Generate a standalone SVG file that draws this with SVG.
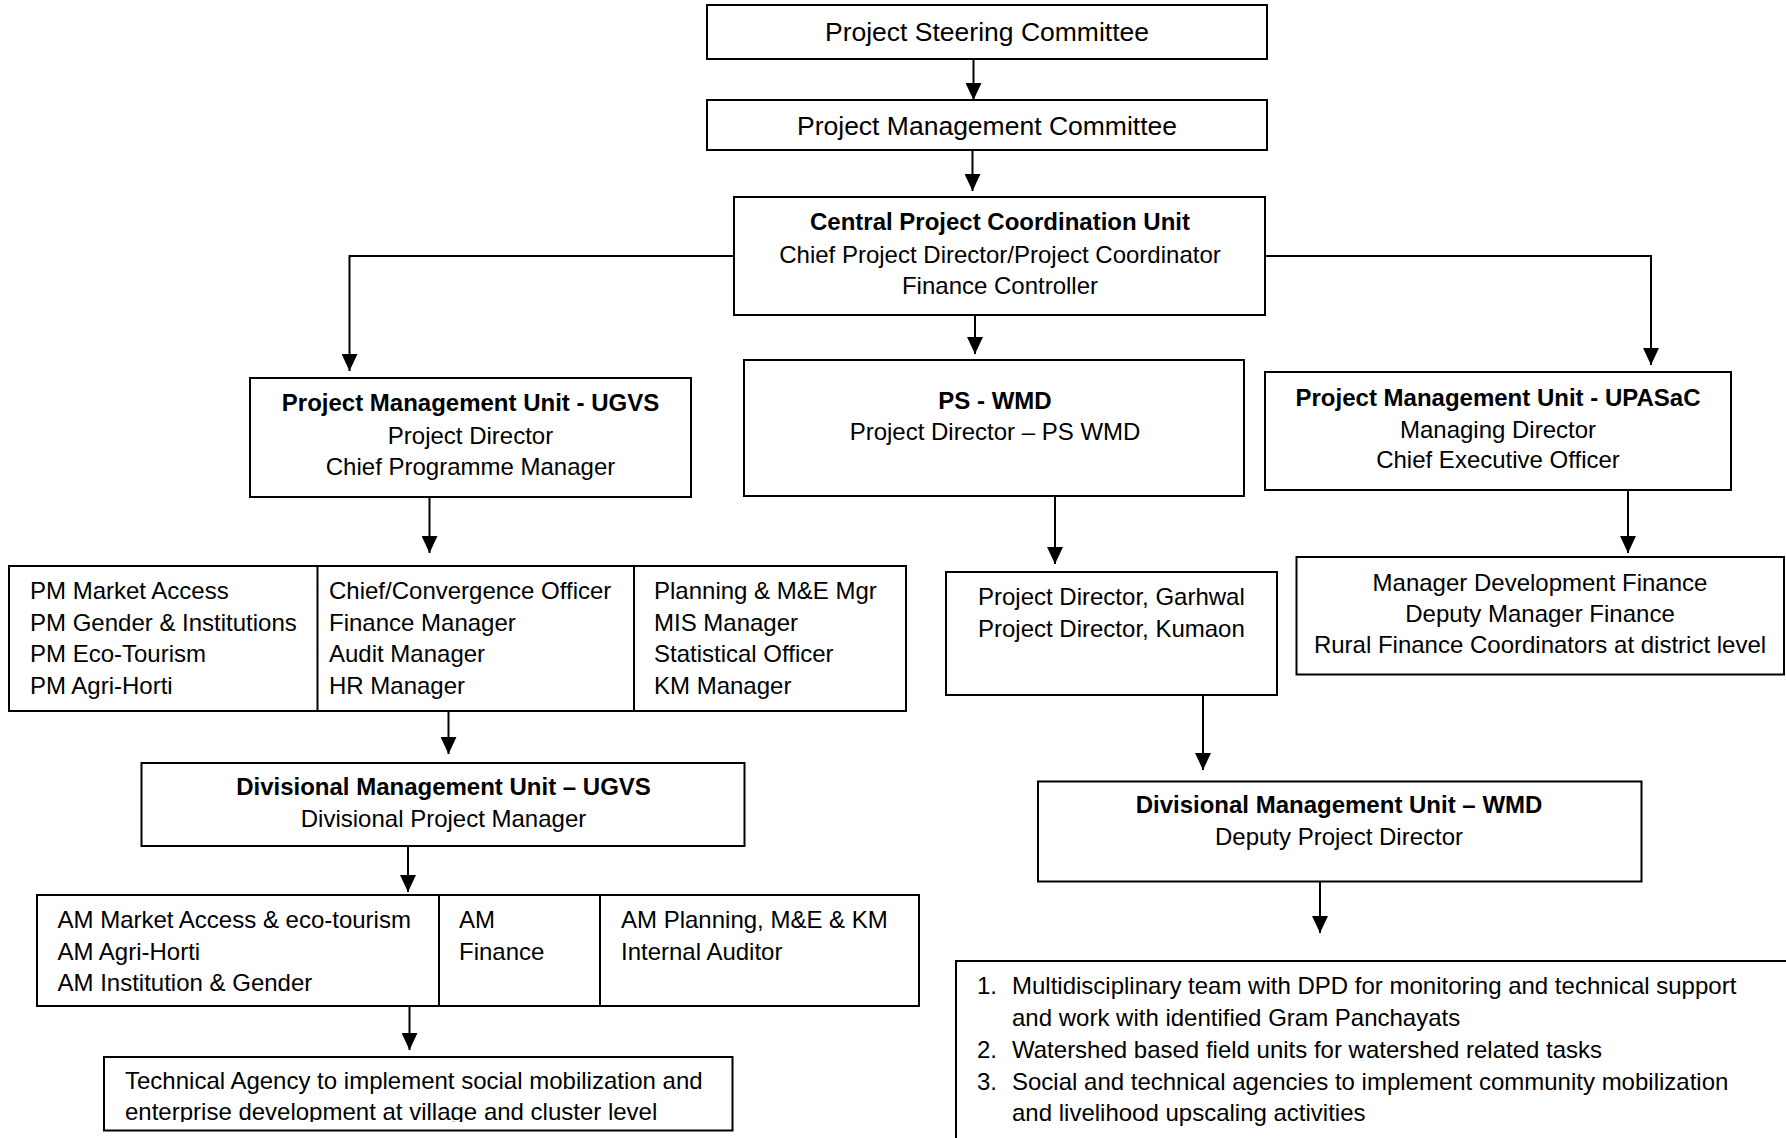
<svg xmlns="http://www.w3.org/2000/svg" width="1786" height="1138" viewBox="0 0 1786 1138">
<style>
.box{fill:#fff;stroke:#000;stroke-width:2}
.ln{fill:none;stroke:#000;stroke-width:2}
.con{fill:none;stroke:#000;stroke-width:2;marker-end:url(#ah)}
text{font-family:"Liberation Sans",Arial,sans-serif;font-size:24px;fill:#000}
.big{font-size:26.5px}
.c{text-anchor:middle}
.b{font-weight:bold}
</style>
<defs>
<marker id="ah" markerUnits="userSpaceOnUse" markerWidth="17" markerHeight="16" refX="17" refY="8" orient="auto" viewBox="0 0 17 16">
<path d="M0,0 L17,8 L0,16 z" fill="#000"/>
</marker>
<clipPath id="techclip"><rect x="104" y="1057" width="629" height="65"/></clipPath>
</defs>
<rect width="1786" height="1138" fill="#fff"/>

<g id="connectors">
<path class="con" d="M973.5,59 V100"/>
<path class="con" d="M972.5,150 V191"/>
<path class="con" d="M975,315 V354"/>
<path class="con" d="M734,256 H349.5 V371"/>
<path class="con" d="M1265,256 H1651 V365"/>
<path class="con" d="M429.5,497 V553"/>
<path class="con" d="M1055,496 V564"/>
<path class="con" d="M1628,490 V553"/>
<path class="con" d="M448.5,711 V754"/>
<path class="con" d="M408,846 V892"/>
<path class="con" d="M409.5,1006 V1050"/>
<path class="con" d="M1203,695 V770"/>
<path class="con" d="M1320,882 V933"/>
</g>

<g id="psc">
<rect class="box" x="707" y="5" width="560" height="54"/>
<text class="c big" x="987" y="41">Project Steering Committee</text>
</g>

<g id="pmc">
<rect class="box" x="707" y="100" width="560" height="50"/>
<text class="c big" x="987" y="135">Project Management Committee</text>
</g>

<g id="cpcu">
<rect class="box" x="734" y="197" width="531" height="118"/>
<text class="c b" x="1000" y="230">Central Project Coordination Unit</text>
<text class="c" x="1000" y="263">Chief Project Director/Project Coordinator</text>
<text class="c" x="1000" y="294">Finance Controller</text>
</g>

<g id="pmu-ugvs">
<rect class="box" x="250" y="378" width="441" height="119"/>
<text class="c b" x="470.5" y="411">Project Management Unit - UGVS</text>
<text class="c" x="470.5" y="444">Project Director</text>
<text class="c" x="470.5" y="475">Chief Programme Manager</text>
</g>

<g id="ps-wmd">
<rect class="box" x="744" y="360" width="500" height="136"/>
<text class="c b" x="995" y="409">PS - WMD</text>
<text class="c" x="995" y="440">Project Director – PS WMD</text>
</g>

<g id="pmu-upasac">
<rect class="box" x="1265" y="372" width="466" height="118"/>
<text class="c b" x="1498" y="406">Project Management Unit - UPASaC</text>
<text class="c" x="1498" y="438">Managing Director</text>
<text class="c" x="1498" y="468">Chief Executive Officer</text>
</g>

<g id="ugvs-staff">
<rect class="box" x="9" y="566" width="897" height="145"/>
<path class="ln" d="M317.5,566 V711 M634,566 V711"/>
<text x="30" y="599">PM Market Access</text>
<text x="30" y="631">PM Gender &amp; Institutions</text>
<text x="30" y="662">PM Eco-Tourism</text>
<text x="30" y="694">PM Agri-Horti</text>
<text x="329" y="599">Chief/Convergence Officer</text>
<text x="329" y="631">Finance Manager</text>
<text x="329" y="662">Audit Manager</text>
<text x="329" y="694">HR Manager</text>
<text x="654" y="599">Planning &amp; M&amp;E Mgr</text>
<text x="654" y="631">MIS Manager</text>
<text x="654" y="662">Statistical Officer</text>
<text x="654" y="694">KM Manager</text>
</g>

<g id="pd-regions">
<rect class="box" x="946" y="572" width="331" height="123"/>
<text x="978" y="605">Project Director, Garhwal</text>
<text x="978" y="637">Project Director, Kumaon</text>
</g>

<g id="finance">
<rect class="box" x="1296.5" y="557" width="487.5" height="117.5"/>
<text class="c" x="1540" y="591">Manager Development Finance</text>
<text class="c" x="1540" y="622">Deputy Manager Finance</text>
<text class="c" x="1540" y="653">Rural Finance Coordinators at district level</text>
</g>

<g id="dmu-ugvs">
<rect class="box" x="141.5" y="763" width="603" height="83"/>
<text class="c b" x="443.5" y="795">Divisional Management Unit – UGVS</text>
<text class="c" x="443.5" y="827">Divisional Project Manager</text>
</g>

<g id="am-staff">
<rect class="box" x="37" y="895" width="882" height="111"/>
<path class="ln" d="M439,895 V1006 M600,895 V1006"/>
<text x="57.5" y="928">AM Market Access &amp; eco-tourism</text>
<text x="57.5" y="960">AM Agri-Horti</text>
<text x="57.5" y="991">AM Institution &amp; Gender</text>
<text x="459" y="928">AM</text>
<text x="459" y="960">Finance</text>
<text x="621" y="928">AM Planning, M&amp;E &amp; KM</text>
<text x="621" y="960">Internal Auditor</text>
</g>

<g id="tech-agency">
<rect class="box" x="104" y="1057" width="628.5" height="73.5"/>
<g clip-path="url(#techclip)">
<text x="125" y="1089">Technical Agency to implement social mobilization and</text>
<text x="125" y="1120">enterprise development at village and cluster level</text>
</g>
</g>

<g id="dmu-wmd">
<rect class="box" x="1038" y="781.5" width="603.5" height="100"/>
<text class="c b" x="1339" y="813">Divisional Management Unit – WMD</text>
<text class="c" x="1339" y="845">Deputy Project Director</text>
</g>

<g id="wmd-field">
<rect class="box" x="956" y="961" width="900" height="300"/>
<text x="977" y="994">1.</text>
<text x="1012" y="994">Multidisciplinary team with DPD for monitoring and technical support</text>
<text x="1012" y="1026">and work with identified Gram Panchayats</text>
<text x="977" y="1058">2.</text>
<text x="1012" y="1058">Watershed based field units for watershed related tasks</text>
<text x="977" y="1090">3.</text>
<text x="1012" y="1090">Social and technical agencies to implement community mobilization</text>
<text x="1012" y="1121">and livelihood upscaling activities</text>
</g>
</svg>
